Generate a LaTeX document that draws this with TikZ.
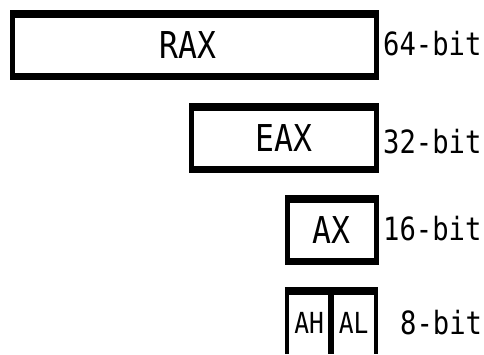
\documentclass[tikz,border=0pt]{standalone}
\usepackage{fontspec}
\newfontfamily\regfont[FakeStretch=0.85]{DejaVu Sans Mono}
\begin{document}
\begin{tikzpicture}[x=1pt,y=-1pt,
  reg/.style={draw=black, line width=4.5pt, fill=white, inner sep=0pt, outer sep=0pt,
    minimum height=62.5pt, font=\regfont\fontsize{37}{40}\selectfont},
  half/.style={inner sep=0pt, outer sep=0pt, minimum height=63pt,
    font=\regfont\fontsize{29}{32}\selectfont},
  hbar/.style={line width=7.5pt, shorten <=-2.25pt, shorten >=-2.25pt},
  side/.style={line width=4.5pt, line join=miter},
  bits/.style={anchor=west, inner sep=0pt, font=\regfont\fontsize{32}{35}\selectfont}]
\useasboundingbox[fill=white] (0,0) rectangle (484,354);
% RAX
\node[reg, minimum width=364pt] (rax) at (194.25,45) {\kern-12pt RAX};
\draw[hbar] (rax.north west) -- (rax.north east);
\draw[hbar] (rax.south west) -- (rax.south east);
% EAX
\node[reg, minimum width=185pt] (eax) at (283.75,138) {EAX};
\draw[hbar] (eax.north west) -- (eax.north east);
\draw[hbar] (eax.south west) -- (eax.south east);
% AX
\node[reg, minimum width=89pt] (ax) at (331.75,230) {AX};
\draw[hbar] (ax.north west) -- (ax.north east);
\draw[hbar] (ax.south west) -- (ax.south east);
% AH / AL
\node[half, minimum width=43.95pt] (ah) at (309.2,322.5) {AH};
\node[half, minimum width=45.05pt] (al) at (353.7,322.5) {AL};
\draw[side] (ah.south west) -- (ah.north west) -- (al.north east) -- (al.south east);
\draw[line width=5.7pt] (ah.north east) -- (ah.south east);
\draw[hbar] (ah.north west) -- (al.north east);
% labels
\node[bits] (l64) at (383,44) {64-bit};
\node[bits] (l32) at (383,142) {32-bit};
\node[bits] (l16) at (383,229) {16-bit};
\node[bits] (l8) at (400,322.5) {8-bit};
\end{tikzpicture}
\end{document}
